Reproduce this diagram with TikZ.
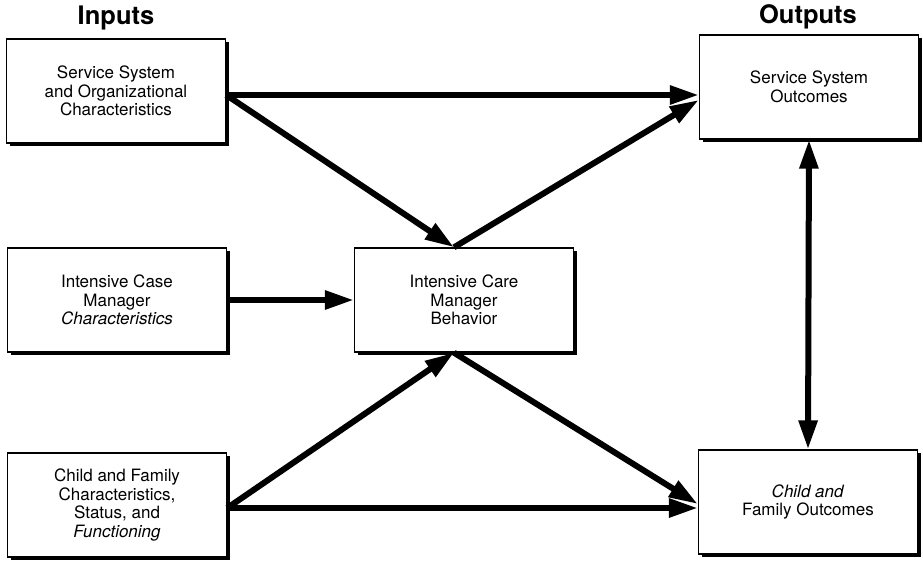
\documentclass[tikz,border=0pt]{standalone}
\usepackage{fontspec}
\setmainfont{TeX Gyre Heros}
\usetikzlibrary{arrows.meta,shadows}
\begin{document}
\begin{tikzpicture}[x=1pt,y=-1pt,
  box/.style={draw, line width=1.4pt, fill=white, minimum width=219pt,
    minimum height=104pt, align=center, inner sep=0pt,
    font=\fontsize{17}{18.5}\selectfont,
    drop shadow={shadow xshift=3pt, shadow yshift=-3pt, fill=black, opacity=1}},
  heading/.style={font=\fontsize{25.5}{28}\selectfont\bfseries},
  flow/.style={line width=6pt, -{Triangle[length=29pt,width=18pt]}},
  twoway/.style={line width=6pt, {Triangle[length=29pt,width=18pt]}-{Triangle[length=29pt,width=18pt]}},
]
\useasboundingbox (0,0) rectangle (923,560);

% headings
\node[heading] (inputs) at (116,18) {Inputs};
\node[heading] (outputs) at (808,17) {Outputs};

% input boxes
\node[box] (in1) at (116,91) {Service System\\and Organizational\\Characteristics};
\node[box] (in2) at (117,300) {Intensive Case\\Manager\\\textit{Characteristics}};
\node[box] (in3) at (117,505) {Child and Family\\Characteristics,\\Status, and\\\textit{Functioning}};

% mediator
\node[box] (mid) at (464,300) {Intensive Care\\Manager\\Behavior};

% output boxes
\node[box] (out1) at (809,87) {Service System\\Outcomes};
\node[box] (out2) at (808,502) {\textit{Child and}\\Family Outcomes};

% connection points
\coordinate (p1) at ([yshift=-4pt]in1.east);
\coordinate (mtop) at ([xshift=-10pt]mid.north);
\coordinate (mbot) at ([xshift=-10pt]mid.south);
\coordinate (p3) at ([yshift=-3pt]in3.east);

% connectors
\draw[flow] (p1) -- (p1 -| out1.west);
\draw[flow] (p1) -- (mtop);
\draw[flow] (mtop) -- ([yshift=-13pt]out1.west);
\draw[flow] (in2.east) -- (mid.west);
\draw[flow] (p3) -- (mbot);
\draw[flow] (mbot) -- ([yshift=-2pt]out2.west);
\draw[flow] (p3) -- (p3 -| out2.west);
\draw[twoway] (out1.south) -- (out2.north);
\end{tikzpicture}
\end{document}
